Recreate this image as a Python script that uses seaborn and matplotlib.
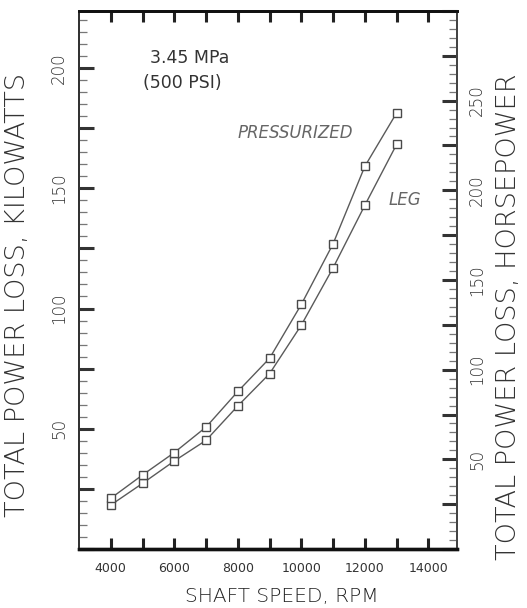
import matplotlib
matplotlib.use("Agg")
import matplotlib.pyplot as plt
from matplotlib.ticker import MultipleLocator, FixedLocator, FuncFormatter
import numpy as np
import pandas as pd
import seaborn as sns

# Shaft speed (RPM) and total power loss (kW) at 3.45 MPa
shaft_speed = [4000, 5000, 6000, 7000, 8000, 9000, 10000, 11000, 12000, 13000]
pressurized_kw = [21.1, 30.8, 40.1, 50.7, 65.5, 79.3, 101.7, 126.9, 159.1, 181.3]
leg_kw = [18.3, 27.3, 36.6, 45.2, 59.5, 72.9, 93.1, 116.9, 142.9, 168.2]
series_names = ["PRESSURIZED", "LEG"]

kw_ticks = [50, 100, 150, 200]
hp_ticks = [50, 100, 150, 200, 250]
rpm_ticks = [4000, 6000, 8000, 10000, 12000, 14000]

HP_PER_KW = 1.341

df = pd.DataFrame({
    "rpm": shaft_speed * 2,
    "kw": pressurized_kw + leg_kw,
    "series": [series_names[0]] * len(shaft_speed) + [series_names[1]] * len(shaft_speed),
})

sns.set_theme(style="white")
plt.rcParams["font.family"] = ["DejaVu Sans"]

fig = plt.figure(figsize=(5.27, 6.08), dpi=100)
fig.patch.set_facecolor("white")
ax = fig.add_axes([0.150, 0.097, 0.717, 0.885])

sns.lineplot(
    data=df, x="rpm", y="kw", units="series", estimator=None,
    color="#5a5a5a", linewidth=1.0, marker="s", markersize=5.5,
    markerfacecolor="white", markeredgecolor="#4a4a4a", markeredgewidth=1.0,
    ax=ax, legend=False,
)

ax.set_xlim(3000, 14900)
kw_max = 300 / HP_PER_KW
ax.set_ylim(0, kw_max)

# x ticks: every 1000 RPM, labels on even thousands, on both top and bottom
ax.xaxis.set_major_locator(FixedLocator(rpm_ticks))
ax.xaxis.set_minor_locator(FixedLocator([5000, 7000, 9000, 11000, 13000]))
ax.xaxis.set_major_formatter(FuncFormatter(lambda v, p: f"{int(v)}"))
ax.tick_params(axis="x", which="both", direction="in", length=8, width=2.2,
               color="#222222", top=True, bottom=True)
ax.tick_params(axis="x", which="major", labelsize=9, labelcolor="#333333", pad=9)

# left axis: kW
ax.yaxis.set_major_locator(MultipleLocator(25))
ax.yaxis.set_minor_locator(MultipleLocator(5))
ax.yaxis.set_major_formatter(FuncFormatter(lambda v, p: f"{int(v)}" if int(v) in kw_ticks and abs(v - int(v)) < 1e-6 else ""))
ax.tick_params(axis="y", which="major", direction="in", length=11, width=2.2,
               color="#333333", labelsize=12, labelcolor="#333333", pad=8,
               left=True, right=False, labelrotation=90)
ax.tick_params(axis="y", which="minor", direction="in", length=6, width=0.9,
               color="#777777", left=True, right=False)
for lbl in ax.get_yticklabels():
    lbl.set_va("center")
    lbl.set_fontweight("light")

label_font = dict(fontsize=19.5, color="#333333", fontweight="light")
ax.set_xlabel("SHAFT SPEED, RPM", fontsize=14.5, color="#222222", fontweight="light")
ax.xaxis.set_label_coords(0.537, -0.071)
ax.set_ylabel("TOTAL POWER LOSS, KILOWATTS", **label_font)
ax.yaxis.set_label_coords(-0.130, 0.472)

# right axis: horsepower
ax2 = ax.twinx()
ax2.set_ylim(0, 300)
ax2.yaxis.set_major_locator(MultipleLocator(25))
ax2.yaxis.set_minor_locator(MultipleLocator(5))
ax2.yaxis.set_major_formatter(FuncFormatter(lambda v, p: f"{int(v)}" if int(v) in hp_ticks else ""))
ax2.tick_params(axis="y", which="major", direction="in", length=11, width=2.2,
                color="#333333", labelsize=12, labelcolor="#333333", pad=8,
                labelrotation=90)
ax2.tick_params(axis="y", which="minor", direction="in", length=6, width=0.9,
                color="#777777")
for lbl in ax2.get_yticklabels():
    lbl.set_va("center")
    lbl.set_fontweight("light")
ax2.set_ylabel("TOTAL POWER LOSS, HORSEPOWER", rotation=90, **label_font)
ax2.yaxis.set_label_coords(1.103, 0.431)

for a in (ax, ax2):
    a.spines["top"].set_linewidth(2.0)
    a.spines["top"].set_color("#111111")
    a.spines["bottom"].set_linewidth(2.4)
    a.spines["bottom"].set_color("#111111")
    a.spines["left"].set_linewidth(1.4)
    a.spines["left"].set_color("#333333")
    a.spines["right"].set_linewidth(1.4)
    a.spines["right"].set_color("#444444")

ax.text(0.189, 0.913, "3.45 MPa", transform=ax.transAxes, fontsize=12.5,
        color="#333333", ha="left", va="center")
ax.text(0.170, 0.866, "(500 PSI)", transform=ax.transAxes, fontsize=12.5,
        color="#333333", ha="left", va="center")
ax.text(8000, 173, series_names[0], fontsize=12, fontstyle="italic",
        color="#666666", ha="left", va="center")
ax.text(12750, 145, series_names[1], fontsize=12, fontstyle="italic",
        color="#666666", ha="left", va="center")

fig.savefig("out.png", dpi=100, facecolor="white")
